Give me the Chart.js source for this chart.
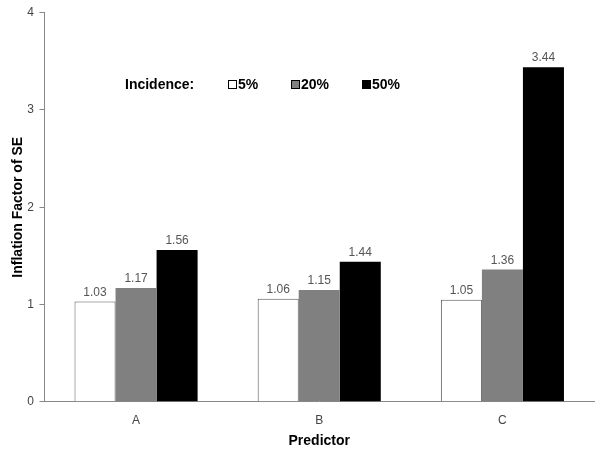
<!DOCTYPE html>
<html>
<head>
<meta charset="utf-8">
<script src="https://cdn.jsdelivr.net/npm/chart.js@4"></script>
<style>
  body { margin: 0; background: #fff; }
  #wrap { width: 600px; height: 452px; }
</style>
</head>
<body>
<div id="wrap"><canvas id="incidenceChart" width="600" height="452"></canvas></div>
<script>
let predictors = ["A", "B", "C"]
let incidenceLabels = ["5%", "20%", "50%"]
let values5 = [1.03, 1.06, 1.05]
let values20 = [1.17, 1.15, 1.36]
let values50 = [1.56, 1.44, 3.44]
let yTicks = [0, 1, 2, 3, 4]

let fillColors = ["#ffffff", "#808080", "#000000"]

// value labels above every bar
let barLabels = {
  id: "barLabels",
  afterDatasetsDraw(chart) {
    let ctx = chart.ctx
    ctx.save()
    ctx.font = "12px 'Liberation Sans', Arial, sans-serif"
    ctx.fillStyle = "#555"
    ctx.textAlign = "center"
    ctx.textBaseline = "bottom"
    chart.data.datasets.forEach(function(ds, i) {
      chart.getDatasetMeta(i).data.forEach(function(bar, j) {
        ctx.fillText(ds.data[j].toFixed(2), bar.x, bar.y - 3)
      })
    })
    ctx.restore()
  }
}

// legend drawn inside the plot, like the original
let insideLegend = {
  id: "insideLegend",
  afterDraw(chart) {
    let ctx = chart.ctx
    let y = 85
    ctx.save()
    ctx.font = "bold 14px 'Liberation Sans', Arial, sans-serif"
    ctx.fillStyle = "#000"
    ctx.textBaseline = "middle"
    ctx.textAlign = "left"
    ctx.fillText("Incidence:", 125, y)
    let xs = [228, 291, 362]
    chart.data.datasets.forEach(function(ds, i) {
      ctx.fillStyle = ds.backgroundColor
      ctx.strokeStyle = "#000"
      ctx.lineWidth = 1
      ctx.fillRect(xs[i] + 0.5, y - 4.5, 8, 8)
      ctx.strokeRect(xs[i] + 0.5, y - 4.5, 8, 8)
      ctx.fillStyle = "#000"
      ctx.fillText(ds.label, xs[i] + 10, y)
    })
    ctx.restore()
  }
}

let datasets = [values5, values20, values50].map(function(vals, i) {
  return {
    label: incidenceLabels[i],
    data: vals,
    backgroundColor: fillColors[i],
    borderColor: i === 0 ? "#555" : fillColors[i],
    borderWidth: i === 0 ? 1 : 0,
    barPercentage: 1,
    categoryPercentage: 0.672
  }
})

new Chart(document.querySelector("#incidenceChart"), {
  type: "bar",
  data: { labels: predictors, datasets: datasets },
  options: {
    responsive: false,
    animation: false,
    layout: { padding: { top: 0, right: 6, left: 5, bottom: 1 } },
    plugins: {
      legend: { display: false },
      tooltip: { enabled: false }
    },
    scales: {
      x: {
        // tick marks hidden, tickLength just spaces the labels off the axis
        grid: { display: false, drawTicks: true, tickLength: 12 },
        border: { color: "#888" },
        ticks: { color: "#444", font: { family: "'Liberation Sans', Arial", size: 12 }, padding: 0 },
        title: {
          display: true,
          text: "Predictor",
          color: "#000",
          font: { family: "'Liberation Sans', Arial", size: 14, weight: "bold" },
          padding: { top: 5, bottom: 1 }
        }
      },
      y: {
        min: 0,
        max: 4,
        afterBuildTicks(axis) {
          axis.ticks = yTicks.map(function(v) { return { value: v } })
        },
        grid: { drawOnChartArea: false, drawTicks: true, tickLength: 5, color: "#888" },
        border: { color: "#888" },
        ticks: { color: "#444", font: { family: "'Liberation Sans', Arial", size: 12 }, padding: 5.5 },
        title: {
          display: true,
          text: "Inflation Factor of SE",
          color: "#000",
          font: { family: "'Liberation Sans', Arial", size: 14, weight: "bold" },
          padding: { top: 5, bottom: -5 }
        }
      }
    }
  },
  plugins: [barLabels, insideLegend]
})
</script>
</body>
</html>
